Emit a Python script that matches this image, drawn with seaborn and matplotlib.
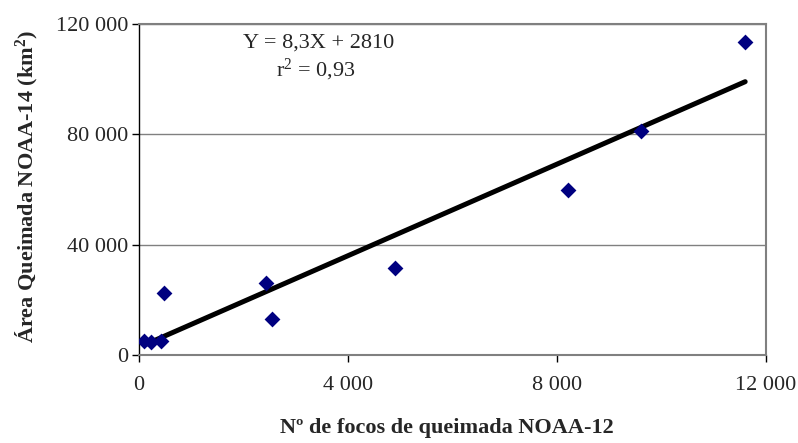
import numpy as np
import pandas as pd
import matplotlib
matplotlib.use("Agg")
import matplotlib.pyplot as plt
from matplotlib.ticker import FuncFormatter
import seaborn as sns

# Nº de focos (NOAA-12) e área queimada (NOAA-14, km2)
focos = [100, 220, 420, 480, 2430, 2550, 4900, 8200, 9600, 11600]
area = [5200, 4800, 5200, 22600, 26000, 13000, 31600, 59800, 81200, 113400]

# regressão informada no gráfico
slope = 8.3
intercept = 2810
eq_label = "Y = 8,3X + 2810"
r2_label = "r$^2$ = 0,93"

x_ticks = [0, 4000, 8000, 12000]
y_ticks = [0, 40000, 80000, 120000]

df = pd.DataFrame({"focos": focos, "area": area})
xs = np.array([min(focos), max(focos)])
fit = pd.DataFrame({"focos": xs, "area": slope * xs + intercept})

sns.set_theme(style="white")
plt.rcParams["font.family"] = ["Liberation Serif", "DejaVu Serif"]
plt.rcParams["mathtext.fontset"] = "custom"
plt.rcParams["mathtext.rm"] = "Liberation Serif"
plt.rcParams["mathtext.it"] = "Liberation Serif:italic"
plt.rcParams["mathtext.bf"] = "Liberation Serif:bold"

fig = plt.figure(figsize=(7.98, 4.43), dpi=100)
ax = fig.add_axes([0.1742, 0.1986, 0.7858, 0.7472])

ax.yaxis.grid(True, color="#808080", linewidth=1)
ax.set_axisbelow(True)

sns.lineplot(data=fit, x="focos", y="area", color="black", linewidth=3.6, ax=ax, zorder=2)
sns.scatterplot(data=df, x="focos", y="area", marker="D", s=65, color="#000080",
                linewidth=0, ax=ax, zorder=3)

ax.set_xlim(0, 12000)
ax.set_ylim(0, 120000)
ax.set_xticks(x_ticks)
ax.set_yticks(y_ticks)
fmt = FuncFormatter(lambda v, p: f"{int(v):,}".replace(",", " "))
ax.xaxis.set_major_formatter(fmt)
ax.yaxis.set_major_formatter(fmt)
ax.tick_params(axis="both", which="major", labelsize=16, length=5, width=1,
               direction="out", color="black", bottom=True, left=True)
ax.tick_params(axis="x", pad=10)
ax.tick_params(axis="y", pad=3)

ax.spines["left"].set_color("black")
ax.spines["left"].set_linewidth(1)
for side in ["top", "right", "bottom"]:
    ax.spines[side].set_color("#808080")
    ax.spines[side].set_linewidth(1.5)

ax.set_xlabel("Nº de focos de queimada NOAA-12", fontsize=16, fontweight="bold")
ax.set_ylabel("Área Queimada NOAA-14 (km$^\\mathbf{2}$)", fontsize=16, fontweight="bold")
ax.xaxis.set_label_coords(0.491, -0.19)
ax.yaxis.set_label_coords(-0.158, 0.509)

ax.text(0.287, 0.9275, eq_label, transform=ax.transAxes, ha="center", va="baseline", fontsize=16)
ax.text(0.2815, 0.843, r2_label, transform=ax.transAxes, ha="center", va="baseline", fontsize=16)

fig.savefig("out.png", dpi=100)
